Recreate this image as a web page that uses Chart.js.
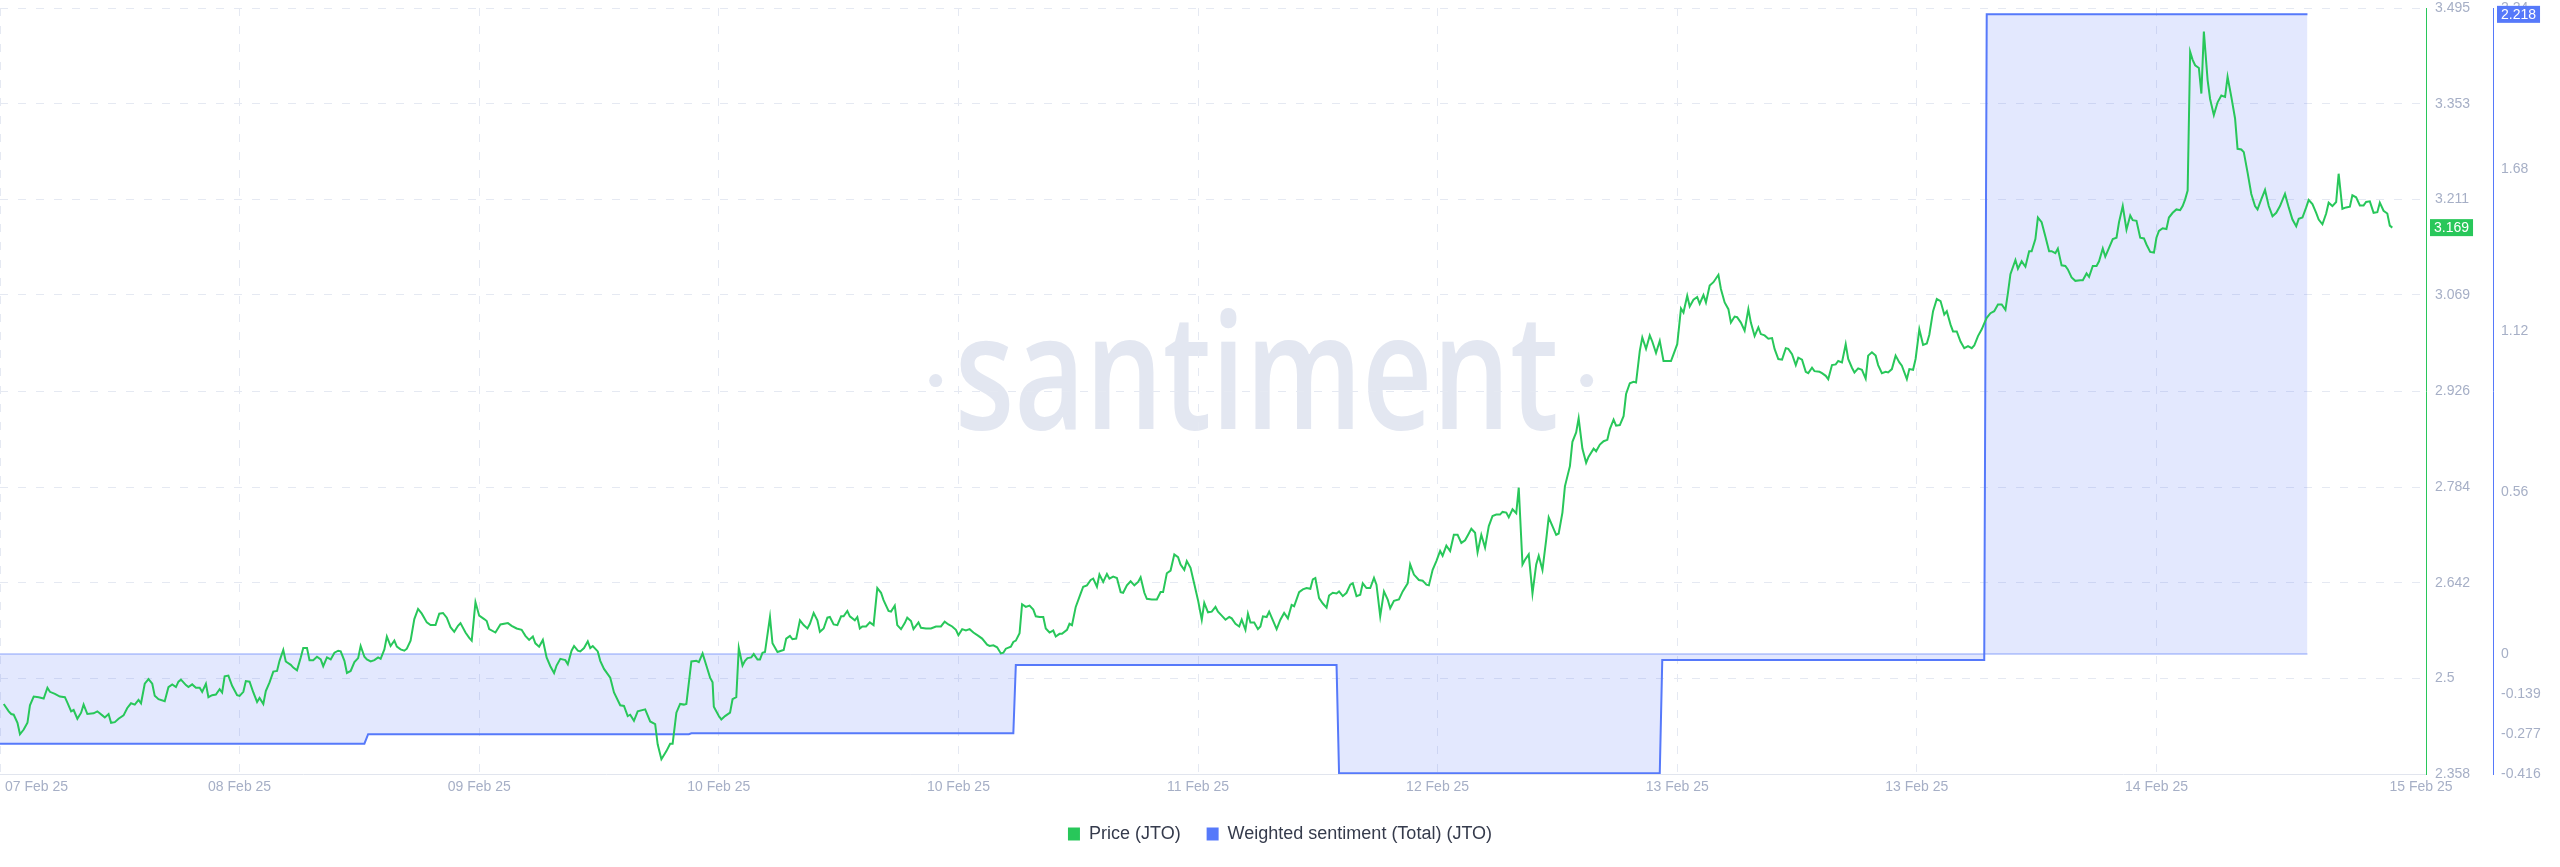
<!DOCTYPE html>
<html>
<head>
<meta charset="utf-8">
<title>JTO price vs weighted sentiment</title>
<script src="https://cdn.jsdelivr.net/npm/chart.js@4.4.1/dist/chart.umd.min.js"></script>
<style>
  html, body { margin: 0; padding: 0; background: #fff; }
  #wrap { width: 2560px; height: 867px; position: relative; }
</style>
</head>
<body>
<div id="wrap"><canvas id="result"></canvas></div>
<script>
// x values are hours from the start of the window
const xTickTimes = [0, 19.2, 38.4, 57.6, 76.8, 96, 115.2, 134.4, 153.6, 172.8, 194]
const xTickLabels = ['07 Feb 25', '08 Feb 25', '09 Feb 25', '10 Feb 25', '10 Feb 25', '11 Feb 25',
  '12 Feb 25', '13 Feb 25', '13 Feb 25', '14 Feb 25', '15 Feb 25']

const priceTicks = [2.358, 2.5, 2.642, 2.784, 2.926, 3.069, 3.211, 3.353, 3.495]
const sentimentTicks = [-0.416, -0.277, -0.139, 0, 0.56, 1.12, 1.68, 2.24]

const sentimentTimes = [0, 29.2, 29.5, 55.2, 55.4, 81.2, 81.4, 107.1, 107.3, 133.0, 133.2, 159.0, 159.2, 184.9]
const sentimentValues = [-0.311, -0.311, -0.278, -0.278, -0.275, -0.275, -0.038, -0.038, -0.413, -0.413,
  -0.021, -0.021, 2.218, 2.218]

const priceTimes = [
  0.3, 0.7, 0.9, 1.1, 1.4, 1.6, 1.9, 2.2, 2.4, 2.7, 3.1, 3.5, 3.8, 4.0, 4.4, 4.8, 5.2, 5.4, 5.7, 5.9,
  6.2, 6.5, 6.7, 7.0, 7.5, 7.8, 8.2, 8.4, 8.7, 8.9, 9.2, 9.5, 9.9, 10.2, 10.5, 10.8, 11.1, 11.3, 11.6, 11.9,
  12.2, 12.4, 12.7, 13.2, 13.5, 13.8, 14.1, 14.3, 14.5, 14.9, 15.1, 15.4, 15.7, 16.0, 16.2, 16.5, 16.7, 17.0, 17.3, 17.6,
  17.8, 18.0, 18.3, 18.6, 19.0, 19.2, 19.5, 19.7, 20.0, 20.3, 20.6, 20.8, 21.1, 21.3, 21.6, 21.9, 22.2, 22.4, 22.7, 22.9,
  23.3, 23.5, 23.8, 24.1, 24.3, 24.6, 24.8, 25.1, 25.4, 25.7, 25.9, 26.2, 26.5, 26.8, 27.1, 27.3, 27.6, 27.8, 28.1, 28.4,
  28.7, 28.9, 29.2, 29.4, 29.7, 30.0, 30.3, 30.5, 30.8, 31.0, 31.3, 31.6, 31.8, 32.1, 32.4, 32.6, 32.9, 33.2, 33.5, 33.8,
  34.2, 34.5, 34.9, 35.2, 35.5, 35.8, 36.1, 36.4, 36.7, 36.9, 37.3, 37.6, 37.8, 38.1, 38.4, 38.8, 39.0, 39.2, 39.7, 40.1,
  40.7, 41.0, 41.4, 41.8, 42.1, 42.4, 42.7, 42.9, 43.2, 43.5, 43.8, 44.1, 44.4, 44.6, 44.9, 45.3, 45.5, 45.8, 46.0, 46.3,
  46.5, 46.8, 47.1, 47.3, 47.5, 47.9, 48.1, 48.4, 48.9, 49.2, 49.7, 50.0, 50.3, 50.5, 50.8, 51.1,
  51.7, 52.1, 52.5, 52.7, 53.0, 53.4, 53.7, 53.9, 54.2, 54.5, 54.8, 55.0, 55.4, 55.8, 56.0, 56.3, 56.6, 56.9, 57.1, 57.2,
  57.6, 57.8, 58.1, 58.5, 58.7, 59.0, 59.2, 59.5, 59.7, 59.9, 60.2, 60.4, 60.7, 60.9,
  61.1, 61.3, 61.7, 61.9, 62.3, 62.6, 62.8, 63.0, 63.3, 63.5, 63.8, 64.1, 64.4, 64.7, 64.9, 65.2, 65.5, 65.7, 66.0, 66.3,
  66.5, 66.8, 67.1, 67.4, 67.6, 67.9, 68.1, 68.5, 68.7, 68.9, 69.1, 69.4, 69.7, 70.0, 70.3, 70.6, 70.8, 71.2, 71.4, 71.7,
  71.9, 72.2, 72.5, 72.7, 73.0, 73.2, 73.6, 73.8, 74.2, 74.6, 75.0, 75.4, 75.7, 76.0, 76.3, 76.6, 76.8, 77.1, 77.4, 77.7,
  78.0, 78.4, 78.7, 79.1, 79.3, 79.6, 79.9, 80.2, 80.4, 80.6, 81.0, 81.2, 81.4, 81.7, 81.9, 82.2, 82.5, 82.8, 83.0, 83.3,
  83.6, 83.8, 84.1, 84.4, 84.6, 84.9, 85.1, 85.5, 85.7, 85.9, 86.2, 86.6, 86.8, 87.1, 87.4, 87.6, 87.9, 88.1, 88.4, 88.7,
  88.9, 89.2, 89.5, 89.8, 90.0, 90.3, 90.6, 90.9, 91.2, 91.4, 91.7, 91.9, 92.3, 92.7, 93.0, 93.2, 93.5, 93.8, 94.1, 94.4,
  94.6, 94.9, 95.1, 95.4, 95.7, 96.0, 96.3, 96.5, 96.8, 97.1, 97.4, 97.6, 97.9, 98.2, 98.5, 98.7, 99.0, 99.3, 99.5, 99.8,
  100.0, 100.2, 100.5, 100.8, 101.0, 101.2, 101.5, 101.7, 102.0, 102.3,
  102.6, 102.9, 103.2, 103.5, 103.7, 104.1, 104.4, 104.7, 105.0, 105.2, 105.4, 105.7, 106.0, 106.3, 106.5, 106.8, 107.1, 107.3, 107.6, 107.9,
  108.2, 108.4, 108.7, 109.0, 109.2, 109.5, 109.8, 110.1, 110.3, 110.6, 110.9, 111.2, 111.4, 111.7, 112.1, 112.4, 112.8, 113.0, 113.3, 113.7,
  114.0, 114.3, 114.5, 114.8, 115.1, 115.4, 115.6, 115.9, 116.2, 116.5, 116.8, 117.1, 117.4, 117.7, 117.9, 118.2, 118.4, 118.7, 119.0, 119.3,
  119.6, 119.9, 120.2, 120.4, 120.7, 120.9, 121.2, 121.5, 121.7, 122.0, 122.2, 122.5, 122.8, 123.1, 123.3, 123.6, 123.9, 124.1, 124.4, 124.7,
  124.9, 125.2, 125.4, 125.8, 126.0, 126.3, 126.5, 126.8, 127.1, 127.3, 127.7, 127.9, 128.2, 128.5, 128.8, 129.0, 129.3, 129.5, 129.8, 130.1,
  130.3, 130.6, 130.9, 131.1, 131.4, 131.6, 131.9, 132.2, 132.4, 132.7, 133.0, 133.3, 133.6, 133.9, 134.1, 134.4, 134.7, 134.9, 135.2, 135.4,
  135.7, 136.0, 136.2, 136.5, 136.7, 137.0, 137.3, 137.7, 137.9, 138.2, 138.5, 138.7, 139.0, 139.2, 139.5, 139.8, 140.1, 140.3, 140.6, 140.9,
  141.1, 141.4, 141.7, 142.0, 142.2, 142.5, 142.8, 143.1, 143.3, 143.6, 143.9, 144.1, 144.4, 144.7, 144.9, 145.2, 145.4, 145.8, 146.0, 146.3,
  146.5, 146.8, 147.1, 147.3, 147.6, 147.9, 148.1, 148.4, 148.6, 148.9, 149.2, 149.5, 149.7, 150.0, 150.3, 150.5, 150.8, 151.1, 151.3, 151.6,
  151.9, 152.2, 152.4, 152.8, 153.0, 153.3, 153.5, 153.8,
  154.1, 154.4, 154.6, 154.9, 155.2, 155.5, 155.8, 156.0, 156.3, 156.5, 156.8, 157.1, 157.4, 157.7, 158.0, 158.2, 158.5, 158.8, 159.0, 159.2,
  159.5, 159.8, 160.1, 160.4, 160.7, 160.9, 161.1, 161.5, 161.7, 162.0, 162.3, 162.6, 162.8, 163.1, 163.3, 163.6, 163.9, 164.2, 164.4, 164.7,
  164.9, 165.2, 165.5, 165.7, 166.0, 166.3, 166.7, 166.9, 167.2, 167.4, 167.7, 168.0, 168.2, 168.5, 168.7, 169.0, 169.3, 169.6, 169.8, 170.1,
  170.4, 170.7, 170.9, 171.2, 171.5, 171.8, 172.0, 172.3, 172.6, 172.8, 173.0, 173.3, 173.6, 173.8, 174.1, 174.4, 174.7, 174.9, 175.1, 175.3,
  175.5, 175.7, 175.9, 176.2, 176.4, 176.6, 176.9, 177.1, 177.4, 177.7, 178.0, 178.3, 178.5, 178.8, 179.1, 179.3, 179.6, 179.8, 180.1, 180.4,
  180.7, 180.9, 181.2, 181.5, 181.8, 182.1, 182.4, 182.7, 183.1, 183.4, 183.7, 184.0, 184.2, 184.5, 184.8, 185.0, 185.3, 185.6, 185.8, 186.1,
  186.4, 186.6, 186.9, 187.2, 187.4, 187.7, 188.0, 188.3, 188.5, 188.8, 189.1, 189.4, 189.6, 189.9, 190.2, 190.5, 190.7, 191.0, 191.3, 191.5,
  191.7
]

const priceValues = [
  2.462, 2.451, 2.447, 2.446, 2.434, 2.417, 2.424, 2.434, 2.460, 2.473, 2.472, 2.470, 2.486, 2.480, 2.477, 2.473, 2.472, 2.464, 2.451, 2.453,
  2.440, 2.449, 2.461, 2.447, 2.448, 2.451, 2.445, 2.442, 2.447, 2.434, 2.435, 2.440, 2.445, 2.456, 2.463, 2.461, 2.468, 2.463, 2.492, 2.499,
  2.492, 2.474, 2.469, 2.466, 2.487, 2.491, 2.487, 2.495, 2.498, 2.490, 2.487, 2.491, 2.486, 2.486, 2.480, 2.492, 2.472, 2.475, 2.476, 2.484,
  2.479, 2.503, 2.504, 2.489, 2.475, 2.474, 2.480, 2.496, 2.495, 2.479, 2.465, 2.471, 2.462, 2.481, 2.494, 2.510, 2.511, 2.526, 2.542, 2.525,
  2.520, 2.516, 2.512, 2.531, 2.545, 2.545, 2.527, 2.527, 2.532, 2.528, 2.518, 2.531, 2.528, 2.538, 2.541, 2.540, 2.526, 2.508, 2.511, 2.524,
  2.530, 2.548, 2.532, 2.528, 2.525, 2.527, 2.531, 2.529, 2.543, 2.562, 2.548, 2.556, 2.547, 2.543, 2.541, 2.544, 2.556, 2.588, 2.603, 2.596,
  2.583, 2.579, 2.579, 2.596, 2.597, 2.590, 2.576, 2.569, 2.578, 2.582, 2.568, 2.560, 2.556, 2.613, 2.593, 2.588, 2.585, 2.573, 2.568, 2.580,
  2.582, 2.578, 2.574, 2.572, 2.563, 2.557, 2.562, 2.552, 2.547, 2.557, 2.531, 2.518, 2.508, 2.519, 2.529, 2.527, 2.521, 2.541, 2.548, 2.541,
  2.540, 2.545, 2.555, 2.545, 2.548, 2.540, 2.526, 2.514, 2.501, 2.479, 2.460, 2.459, 2.444, 2.446, 2.437, 2.451,
  2.454, 2.436, 2.432, 2.402, 2.380, 2.392, 2.403, 2.403, 2.449, 2.462, 2.461, 2.462, 2.525, 2.526, 2.524, 2.537, 2.519, 2.501, 2.494, 2.458,
  2.444, 2.439, 2.444, 2.449, 2.469, 2.472, 2.545, 2.519, 2.526, 2.530, 2.531, 2.536, 2.528, 2.528,
  2.538, 2.539, 2.591, 2.552, 2.539, 2.541, 2.542, 2.559, 2.563, 2.558, 2.559, 2.586, 2.579, 2.574, 2.581, 2.597, 2.586, 2.569, 2.574, 2.590,
  2.591, 2.580, 2.579, 2.592, 2.592, 2.600, 2.592, 2.586, 2.591, 2.574, 2.577, 2.577, 2.583, 2.579, 2.634, 2.627, 2.616, 2.600, 2.599, 2.608,
  2.579, 2.573, 2.582, 2.590, 2.585, 2.573, 2.583, 2.575, 2.574, 2.574, 2.577, 2.577, 2.584, 2.580, 2.577, 2.572, 2.564, 2.573, 2.571, 2.573,
  2.568, 2.563, 2.559, 2.550, 2.548, 2.549, 2.546, 2.537, 2.538, 2.544, 2.547, 2.554, 2.556, 2.567, 2.610, 2.606, 2.608, 2.602, 2.592, 2.591,
  2.591, 2.574, 2.568, 2.571, 2.562, 2.566, 2.566, 2.572, 2.581, 2.579, 2.606, 2.626, 2.636, 2.638, 2.646, 2.648, 2.636, 2.654, 2.643, 2.655,
  2.648, 2.651, 2.649, 2.628, 2.627, 2.638, 2.644, 2.638, 2.643, 2.650, 2.627, 2.618, 2.617, 2.617, 2.628, 2.628, 2.656, 2.660, 2.684, 2.680,
  2.669, 2.661, 2.674, 2.664, 2.640, 2.616, 2.587, 2.612, 2.598, 2.599, 2.606, 2.599, 2.593, 2.587, 2.591, 2.589, 2.581, 2.577, 2.587, 2.572,
  2.596, 2.583, 2.583, 2.573, 2.577, 2.592, 2.591, 2.599, 2.586, 2.573,
  2.587, 2.597, 2.589, 2.609, 2.607, 2.628, 2.632, 2.634, 2.633, 2.647, 2.649, 2.619, 2.611, 2.605, 2.623, 2.627, 2.626, 2.629, 2.622, 2.627,
  2.639, 2.641, 2.622, 2.624, 2.641, 2.634, 2.634, 2.649, 2.639, 2.592, 2.629, 2.617, 2.604, 2.615, 2.617, 2.629, 2.641, 2.669, 2.654, 2.646,
  2.645, 2.639, 2.638, 2.661, 2.674, 2.689, 2.682, 2.697, 2.689, 2.713, 2.713, 2.701, 2.705, 2.715, 2.722, 2.716, 2.687, 2.713, 2.694, 2.726,
  2.741, 2.743, 2.743, 2.747, 2.746, 2.739, 2.751, 2.745, 2.783, 2.669, 2.676, 2.684, 2.626, 2.669, 2.682, 2.661, 2.706, 2.739, 2.726, 2.713,
  2.715, 2.746, 2.785, 2.815, 2.851, 2.865, 2.886, 2.841, 2.820, 2.829, 2.841, 2.837, 2.847, 2.852, 2.854, 2.870, 2.884, 2.875, 2.876, 2.889,
  2.922, 2.938, 2.940, 2.939, 2.986, 3.006, 2.989, 3.009, 3.000, 2.983, 3.001, 2.971, 2.971, 2.971, 2.981, 2.996, 3.049, 3.043, 3.068, 3.052,
  3.062, 3.066, 3.056, 3.069, 3.058, 3.083, 3.088, 3.099, 3.078, 3.058, 3.048, 3.028, 3.037, 3.036, 3.028, 3.016, 3.048, 3.028, 3.008, 3.021,
  3.011, 3.009, 3.004, 3.005, 2.989, 2.974, 2.973, 2.990, 2.989, 2.981, 2.965, 2.976, 2.973, 2.955, 2.953, 2.961, 2.956, 2.955, 2.953, 2.949,
  2.944, 2.965, 2.966, 2.971, 2.969, 2.996, 2.974, 2.961, 2.954, 2.960, 2.958, 2.945, 2.979, 2.984, 2.979, 2.965, 2.953, 2.955, 2.954, 2.959,
  2.979, 2.969, 2.964, 2.944, 2.959, 2.958, 2.974, 3.018,
  2.995, 2.997, 3.010, 3.045, 3.063, 3.060, 3.040, 3.045, 3.025, 3.015, 3.015, 3.000, 2.990, 2.993, 2.990, 2.994, 3.008, 3.018, 3.027, 3.035,
  3.042, 3.045, 3.055, 3.055, 3.047, 3.072, 3.100, 3.121, 3.108, 3.119, 3.111, 3.134, 3.134, 3.152, 3.184, 3.177, 3.156, 3.134, 3.134, 3.131,
  3.138, 3.113, 3.112, 3.107, 3.095, 3.090, 3.091, 3.091, 3.101, 3.096, 3.112, 3.112, 3.119, 3.138, 3.126, 3.139, 3.152, 3.154, 3.177, 3.201,
  3.166, 3.187, 3.180, 3.179, 3.154, 3.153, 3.144, 3.133, 3.132, 3.154, 3.164, 3.168, 3.167, 3.184, 3.191, 3.196, 3.195, 3.201, 3.211, 3.224,
  3.430, 3.418, 3.410, 3.406, 3.368, 3.460, 3.388, 3.360, 3.336, 3.355, 3.365, 3.363, 3.393, 3.363, 3.331, 3.286, 3.285, 3.281, 3.251, 3.219,
  3.201, 3.196, 3.211, 3.225, 3.201, 3.186, 3.191, 3.201, 3.219, 3.199, 3.181, 3.171, 3.182, 3.184, 3.199, 3.210, 3.204, 3.191, 3.181, 3.174,
  3.190, 3.206, 3.201, 3.207, 3.249, 3.197, 3.199, 3.200, 3.217, 3.214, 3.202, 3.202, 3.207, 3.208, 3.191, 3.192, 3.206, 3.194, 3.190, 3.172,
  3.169
]

const GREEN = '#28c75a'
const BLUE = '#5679fa'
const TICK_COLOR = '#a6afc6'
const GRID_COLOR = '#e5e9f2'
const FONT = '"Liberation Sans", Arial, sans-serif'

const toPoints = (xs, ys) => xs.map((x, i) => ({ x, y: ys[i] }))

// right axes: fixed width, and no extra room above/below for the end labels
const fitRightAxis = (s) => {
  s.width = 67
  s.paddingTop = 0
  s.paddingBottom = 0
}

// faint ·santiment· text behind the lines
const watermark = {
  id: 'watermark',
  beforeDraw(chart) {
    const { ctx, chartArea: a } = chart
    const cx = a.left + a.width * 0.518
    const base = a.top + a.height * 0.549
    ctx.save()
    ctx.fillStyle = '#e3e7f1'
    ctx.font = '600 162px "Open Sans"'
    const w = ctx.measureText('santiment').width
    ctx.save()
    ctx.translate(cx, base)
    ctx.scale(604 / w, 1)
    ctx.textAlign = 'center'
    ctx.textBaseline = 'alphabetic'
    ctx.fillText('santiment', 0, 0)
    ctx.restore()
    for (const dx of [-321, 330]) {
      ctx.beginPath()
      ctx.arc(cx + dx, base - 48, 6.5, 0, Math.PI * 2)
      ctx.fill()
    }
    ctx.restore()
  }
}

// x labels drawn by hand so the first one can sit inside the canvas
const xLabels = {
  id: 'xLabels',
  afterDraw(chart) {
    const { ctx, chartArea: a, scales: { x } } = chart
    ctx.save()
    ctx.font = '14px ' + FONT
    ctx.fillStyle = TICK_COLOR
    ctx.textBaseline = 'middle'
    xTickTimes.forEach((t, i) => {
      const px = x.getPixelForValue(t)
      ctx.textAlign = i === 0 ? 'left' : 'center'
      ctx.fillText(xTickLabels[i], i === 0 ? px + 5 : px, a.bottom + 13)
    })
    ctx.restore()
  }
}

// last value tags on both axes
const lastBadges = {
  id: 'lastBadges',
  afterDraw(chart) {
    const { ctx } = chart
    const tag = (scale, value, color) => {
      const text = value.toFixed(3)
      ctx.font = '14px ' + FONT
      const w = ctx.measureText(text).width + 8
      const h = 17
      const top = Math.max(scale.getPixelForValue(value) - h / 2, scale.top - 3)
      const left = scale.left + 4
      ctx.fillStyle = color
      ctx.fillRect(left, top, w, h)
      ctx.fillStyle = '#fff'
      ctx.textAlign = 'left'
      ctx.textBaseline = 'middle'
      ctx.fillText(text, left + 4, top + h / 2 + 0.5)
    }
    ctx.save()
    tag(chart.scales.y, priceValues[priceValues.length - 1], GREEN)
    tag(chart.scales.y2, sentimentValues[sentimentValues.length - 1], BLUE)
    ctx.restore()
  }
}

const ctx = document.getElementById('result').getContext('2d')
const chart = new Chart(ctx, {
  type: 'line',
  data: {
    datasets: [
      {
        label: 'Price (JTO)',
        data: toPoints(priceTimes, priceValues),
        yAxisID: 'y',
        borderColor: GREEN,
        backgroundColor: GREEN,
        borderWidth: 2,
        pointRadius: 0,
        fill: false
      },
      {
        label: 'Weighted sentiment (Total) (JTO)',
        data: toPoints(sentimentTimes, sentimentValues),
        yAxisID: 'y2',
        borderColor: BLUE,
        backgroundColor: 'rgba(86, 121, 250, 0.17)',
        borderWidth: 2,
        pointRadius: 0,
        fill: 'origin'
      },
      {
        label: 'zero',
        data: toPoints([sentimentTimes[0], sentimentTimes[sentimentTimes.length - 1]], [0, 0]),
        yAxisID: 'y2',
        borderColor: 'rgba(86, 121, 250, 0.45)',
        borderWidth: 1.5,
        pointRadius: 0,
        fill: false
      }
    ]
  },
  options: {
    responsive: true,
    maintainAspectRatio: false,
    devicePixelRatio: 1,
    animation: false,
    layout: { padding: { top: 8, left: 0, right: 0, bottom: 14 } },
    plugins: {
      tooltip: { enabled: false },
      legend: {
        position: 'bottom',
        labels: {
          boxWidth: 12,
          boxHeight: 13,
          padding: 26,
          color: '#353b4c',
          font: { size: 18, family: FONT },
          generateLabels: (c) => Chart.defaults.plugins.legend.labels.generateLabels(c)
            .filter((l) => l.datasetIndex < 2)
            .map((l) => {
              const col = c.data.datasets[l.datasetIndex].borderColor
              return { ...l, fillStyle: col, strokeStyle: col, lineWidth: 0 }
            })
        }
      }
    },
    scales: {
      x: {
        type: 'linear',
        min: 0,
        max: 194.4,
        afterBuildTicks: (s) => { s.ticks = xTickTimes.map((v) => ({ value: v })) },
        ticks: { display: false, autoSkip: false },
        grid: {
          color: (c) => c.index === xTickTimes.length - 1 ? 'transparent' : GRID_COLOR,
          drawTicks: false
        },
        border: { display: true, color: '#e1e5ee', dash: [8, 10] },
        afterFit: (s) => { s.height = 25 }
      },
      y: {
        position: 'right',
        weight: 0,
        min: priceTicks[0],
        max: priceTicks[priceTicks.length - 1],
        afterBuildTicks: (s) => { s.ticks = priceTicks.map((v) => ({ value: v })) },
        ticks: { color: TICK_COLOR, font: { size: 14, family: FONT }, padding: 9, autoSkip: false, callback: (v) => String(v) },
        grid: { color: GRID_COLOR, drawTicks: false },
        border: { display: true, color: GREEN, dash: [8, 10] },
        afterFit: fitRightAxis
      },
      y2: {
        position: 'right',
        weight: 1,
        min: sentimentTicks[0],
        max: sentimentTicks[sentimentTicks.length - 1],
        afterBuildTicks: (s) => { s.ticks = sentimentTicks.map((v) => ({ value: v })) },
        ticks: { color: TICK_COLOR, font: { size: 14, family: FONT }, padding: 8, autoSkip: false, callback: (v) => String(v) },
        grid: { display: false, drawTicks: false },
        border: { display: true, color: BLUE },
        afterFit: fitRightAxis
      }
    }
  },
  plugins: [watermark, xLabels, lastBadges]
})
</script>
</body>
</html>
